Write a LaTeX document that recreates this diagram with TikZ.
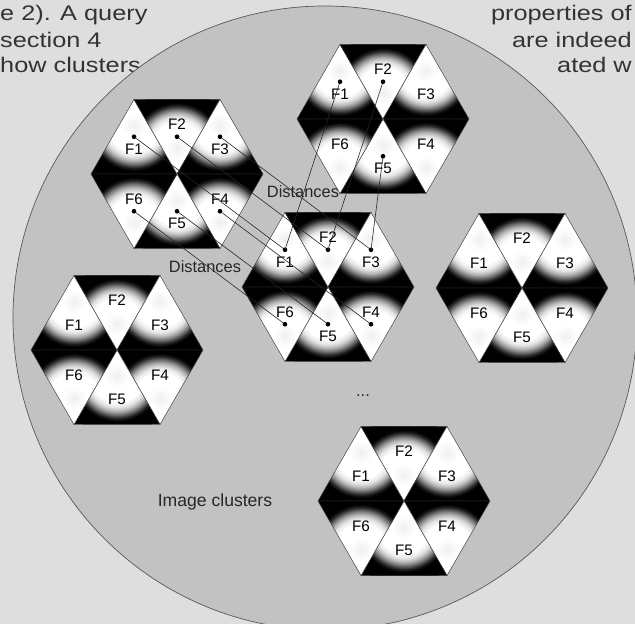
\documentclass[tikz,border=0pt]{standalone}
\usepackage{fontspec}
\setmainfont{Liberation Sans}
\newfontfamily\scanfont[FakeStretch=1.2]{Liberation Sans}
\usetikzlibrary{positioning,calc}

\definecolor{paper}{HTML}{DEDEDE}
\definecolor{disc}{HTML}{C2C2C2}
\definecolor{scan}{HTML}{333333}

% used at its own size: 1px of the picture = 0.85bp
\pgfdeclareradialshading{facetshade}{\pgfpoint{0bp}{0bp}}{%
  color(0bp)=(black!6); color(10bp)=(white); color(22bp)=(white);
  color(26.4bp)=(black!10); color(29.8bp)=(black!30); color(33.2bp)=(black!60);
  color(35.7bp)=(black!85); color(38.3bp)=(black); color(50bp)=(black)}

\tikzset{
    facet/.style={fill=black, draw=black!70, line width=0.4pt},
    flabel/.style={font=\fontsize{13}{13}\selectfont, inner sep=0pt},
    cluster/.pic={
        \foreach \n/\xc/\ye/\ya in {1/-43/0/-74.5, 2/0/-74.5/0, 3/43/0/-74.5,
                                    4/43/0/74.5, 5/0/74.5/0, 6/-43/0/74.5}{
            \pgfmathsetmacro\yl{\ye+(\ya-\ye)/3}
            \pgfmathsetmacro\yd{\ye+(\ya-\ye)/2}
            \pgfmathsetmacro\ys{\ye+0.65*(\ya-\ye)}
            \path[facet, path picture={\pgftext[at={\pgfpointxy{\xc}{\ys}}]{\pgfuseshading{facetshade}}}]
                (\xc-43,\ye) -- (\xc+43,\ye) -- (\xc,\ya) -- cycle;
            \node[flabel] (-f\n) at (\xc,\yl) {F\n};
            \coordinate (-d\n) at (\xc,\yd);
        }
    }
}

\begin{document}
\begin{tikzpicture}[
        x=0.03cm, y=-0.03cm,
        scantext/.style={font=\scanfont\fontsize{18}{18}\selectfont, text=scan, inner sep=0pt},
        caption/.style={font=\fontsize{14}{14}\selectfont, text=black!85, inner sep=0pt},
        featdot/.style={fill=black},
        dist/.style={draw=black!85, line width=0.5pt}
    ]
    \useasboundingbox (0,0) rectangle (635,624);
    \clip (0,0) rectangle (635,624);
    \fill[paper] (0,0) rectangle (635,624);

    % page text behind the figure
    \node[scantext, anchor=west] (l1a) at (0,15) {e 2). A query};
    \node[scantext, anchor=east] (l1b) at (632,15) {properties of};
    \node[scantext, anchor=west] (l2a) at (0,40) {section 4};
    \node[scantext, anchor=east] (l2b) at (632,40) {are indeed};
    \node[scantext, anchor=west] (l3a) at (0,65) {how clusters};
    \node[scantext, anchor=east] (l3b) at (632,65) {ated w};

    \node[circle, fill=disc, draw=black!65, line width=0.6pt, inner sep=0pt,
          minimum size=18.72cm] (disc) at (325,318) {};

    \pic (h1) at (177,174) {cluster};
    \pic (h2) at (383,119) {cluster};
    \pic (h3) at (328,287) {cluster};
    \pic (h4) at (117,350) {cluster};
    \pic (h5) at (522,288) {cluster};
    \pic (h6) at (404,501) {cluster};

    \foreach \i in {1,...,6}{
        \draw[dist] (h1-d\i) -- (h3-d\i);
        \fill[featdot] (h1-d\i) circle [radius=2pt];
        \fill[featdot] (h3-d\i) circle [radius=2pt];
    }
    \draw[dist] (h2-d1) -- (h3-d1);
    \draw[dist] (h2-d2) -- (h3-d2);
    \draw[dist] (h2-d5) -- (h3-d3);
    \foreach \i in {1,2,5}
        \fill[featdot] (h2-d\i) circle [radius=2pt];

    \node[caption] (dist1) at (303,192) {Distances};
    \node[caption] (dist2) at (205,267) {Distances};
    \node[caption] (more) at (363,396) {...};
    \node[caption, font=\fontsize{15}{15}\selectfont] (clusters) at (215,502) {Image clusters};
\end{tikzpicture}
\end{document}
